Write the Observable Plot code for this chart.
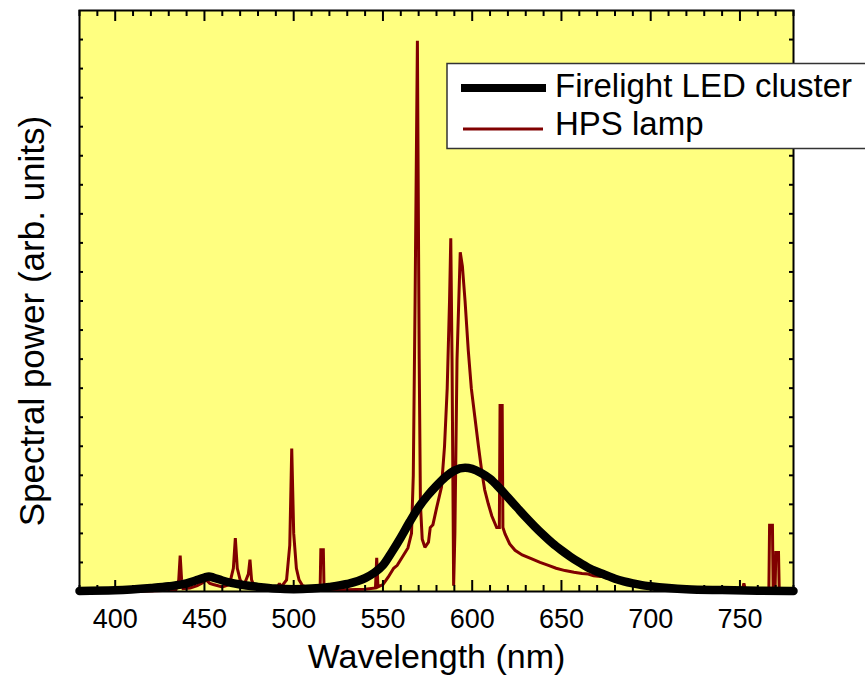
<!DOCTYPE html>
<html>
<head>
<meta charset="utf-8">
<script src="https://cdn.jsdelivr.net/npm/d3@7"></script>
<script src="https://cdn.jsdelivr.net/npm/@observablehq/plot@0.6"></script>
<style>
  html, body { margin: 0; padding: 0; background: #ffffff; }
  #wrap { position: relative; width: 865px; height: 681px; overflow: hidden; }
  #legend { position: absolute; left: 0; top: 0; pointer-events: none; }
</style>
</head>
<body>
<div id="wrap"></div>
<script>
// ---- Data ----
const seriesNames = ["Firelight LED cluster", "HPS lamp"];
const xLabel = "Wavelength (nm)";
const yLabel = "Spectral power (arb. units)";

const xMajorTicks = [400, 450, 500, 550, 600, 650, 700, 750];
const xMinorTicks = [380, 390, 410, 420, 430, 440, 460, 470, 480, 490, 510, 520, 530, 540, 560, 570, 580, 590,
  610, 620, 630, 640, 660, 670, 680, 690, 710, 720, 730, 740, 760, 770, 780];
const yMinorTicks = [5, 10, 15, 20, 25, 30, 35, 40, 45, 50, 55, 60, 65, 70, 75, 80, 85, 90, 95];

// Firelight LED cluster spectrum (wavelength nm, arb. units)
const ledWavelength = [380, 400, 420, 430, 440, 445, 450, 452.5, 455, 460, 465, 470, 480, 490, 500, 510, 520, 530,
  540, 545, 550, 555, 560, 565, 570, 575, 580, 585, 590, 596, 600, 605, 610, 615, 620, 625, 630, 635, 640,
  645, 650, 655, 660, 665, 670, 675, 680, 685, 690, 695, 700, 710, 720, 740, 760, 780];
const ledPower = [0.1, 0.2, 0.6, 0.9, 1.4, 1.9, 2.4, 2.6, 2.4, 1.9, 1.5, 1.2, 0.8, 0.5, 0.4, 0.5, 0.8, 1.3,
  2.3, 3.2, 4.5, 6.8, 9.3, 12.0, 14.5, 16.5, 18.2, 19.7, 20.8, 21.3, 21.1, 20.4, 19.4, 17.9, 16.2, 14.5, 12.8, 11.2, 9.7,
  8.3, 7.1, 6.0, 5.0, 4.1, 3.4, 2.8, 2.2, 1.75, 1.4, 1.1, 0.9, 0.6, 0.4, 0.25, 0.15, 0.1];

// HPS lamp spectrum (wavelength nm, arb. units)
const hpsWavelength = [380, 400, 420, 430, 434, 435.6, 436.4, 437.2, 438, 442, 446, 449, 451, 453, 455, 460, 464,
  466.2, 467.3, 468.4, 470, 472, 474.6, 475.5, 476.4, 478, 482, 488, 491, 492, 493, 496, 497.8, 498.9, 500, 501.5,
  503, 505, 510, 514.8, 515.2, 516.6, 517, 520, 530, 540, 545.8, 546.5, 547.2, 550, 553, 556, 558, 560, 562, 564,
  566, 567, 568, 569.3, 570.3, 571, 572, 573.5, 575.5, 576.5, 578, 580, 582.8, 584.5, 586, 587.3, 588, 588.7,
  589.6, 590.3, 591.5, 593.3, 594.5, 596, 597.8, 599.5, 601.5, 603.5, 605.3, 607, 609, 611, 613.7, 615.2, 615.6,
  616.8, 617.2, 618.4, 621, 624, 628, 633.4, 638, 642.7, 647, 652, 657, 661.5, 665, 668, 672, 676, 680, 685, 690,
  695, 700, 705, 710, 720, 730, 740, 749, 751.5, 752.2, 753, 760, 766.2, 766.6, 768.2, 768.6, 769.7, 770.1,
  771.6, 772, 776, 780];
const hpsPower = [0, 0, 0.1, 0.2, 0.3, 2, 6.2, 2, 0.5, 0.6, 1.0, 1.5, 2.0, 1.4, 1.2, 0.8, 1.2,
  4, 9.2, 4, 2, 1, 3, 5.5, 2, 0.8, 0.4, 0.5, 0.8, 1.4, 0.8, 2, 8, 24.6, 10, 4,
  2, 1, 0.5, 0.4, 7.2, 7.2, 0.4, 0.3, 0.3, 0.4, 0.6, 5.8, 0.8, 1.2, 2.5, 4, 4.5, 5.5, 6.5, 7.5,
  10, 20, 50, 94.8, 40, 15, 9, 7.6, 8.5, 11, 11.5, 14.3, 18, 25, 35, 50, 60.8, 40,
  1, 10, 40, 58.4, 56, 50, 41.5, 35, 30, 25, 20.8, 17.5, 15.1, 13, 11, 11, 32,
  32, 11, 9.9, 8.2, 7.1, 6.3, 5.6, 5, 4.5, 4, 3.6, 3.3, 3.1, 3.0, 2.7, 2.6, 2.4, 2.2, 1.8, 1.5,
  1.2, 1.0, 0.8, 0.6, 0.4, 0.3, 0.3, 0.3, 0.5, 1.4, 0.4, 0.3, 0.3, 11.4, 11.4, 0.5, 0.5, 6.7,
  6.7, 0.3, 0.2, 0.2];

// ---- Build tables ----
const led = ledWavelength.map((w, i) => ({w, p: ledPower[i]}));
const hps = hpsWavelength.map((w, i) => ({w, p: hpsPower[i]}));

const FONT = "'Liberation Sans', Arial, Helvetica, sans-serif";
const W = 865, H = 681, ML = 79, MR = 72, MT = 10, MB = 90;
const PW = W - ML - MR, PH = H - MT - MB;

const chart = Plot.plot({
  width: W, height: H,
  marginLeft: ML, marginRight: MR, marginTop: MT, marginBottom: MB,
  style: {background: "#ffffff", fontFamily: FONT, color: "#000"},
  x: {domain: [380, 780]},
  y: {domain: [0, 100], axis: null},
  marks: [
    Plot.frame({fill: "#ffff80", stroke: null}),
    Plot.line(hps, {x: "w", y: "p", stroke: "#800000", strokeWidth: 3, strokeLinejoin: "miter", strokeMiterlimit: 2}),
    Plot.line(led, {x: "w", y: "p", stroke: "#000000", strokeWidth: 8.5, curve: "monotone-x", strokeLinecap: "round"}),
    // inward ticks
    Plot.ruleX(xMajorTicks, {x: d => d, stroke: "#000", strokeWidth: 2, insetTop: PH - 11}),
    Plot.ruleX(xMajorTicks, {x: d => d, stroke: "#000", strokeWidth: 2, insetBottom: PH - 11}),
    Plot.ruleX(xMinorTicks, {x: d => d, stroke: "#000", strokeWidth: 2, insetTop: PH - 6}),
    Plot.ruleX(xMinorTicks, {x: d => d, stroke: "#000", strokeWidth: 2, insetBottom: PH - 6}),
    Plot.ruleY(yMinorTicks, {y: d => d, stroke: "#000", strokeWidth: 2, insetRight: PW - 4}),
    Plot.ruleY(yMinorTicks, {y: d => d, stroke: "#000", strokeWidth: 2, insetLeft: PW - 4}),
    Plot.frame({stroke: "#000", strokeWidth: 2}),
    Plot.axisX({ticks: xMajorTicks, tickSize: 0, tickPadding: 17, fontSize: 27, label: null, tickFormat: d => String(d)}),
    Plot.text([xLabel], {text: d => d, frameAnchor: "bottom", dy: 76, fontSize: 34, fill: "#000"}),
    Plot.text([yLabel], {text: d => d, frameAnchor: "left", textAnchor: "middle", lineAnchor: "middle", dx: -47, dy: 20, rotate: -90, fontSize: 35, fill: "#000"})
  ]
});

const wrap = document.getElementById("wrap");
wrap.appendChild(chart);

// ---- Legend overlay ----
const ns = "http://www.w3.org/2000/svg";
const lg = document.createElementNS(ns, "svg");
lg.setAttribute("id", "legend");
lg.setAttribute("width", W);
lg.setAttribute("height", H);
const legendItems = [
  {name: seriesNames[0], color: "#000000", width: 8, x1: 461, x2: 546, y: 88, ty: 97},
  {name: seriesNames[1], color: "#800000", width: 3, x1: 463, x2: 543, y: 129, ty: 135}
];
const box = document.createElementNS(ns, "rect");
box.setAttribute("x", 447); box.setAttribute("y", 63.5);
box.setAttribute("width", 430); box.setAttribute("height", 85);
box.setAttribute("fill", "#ffffff"); box.setAttribute("stroke", "#333333"); box.setAttribute("stroke-width", 1.5);
lg.appendChild(box);
for (const it of legendItems) {
  const ln = document.createElementNS(ns, "line");
  ln.setAttribute("x1", it.x1); ln.setAttribute("x2", it.x2);
  ln.setAttribute("y1", it.y); ln.setAttribute("y2", it.y);
  ln.setAttribute("stroke", it.color); ln.setAttribute("stroke-width", it.width);
  lg.appendChild(ln);
  const tx = document.createElementNS(ns, "text");
  tx.setAttribute("x", 555); tx.setAttribute("y", it.ty);
  tx.setAttribute("font-family", FONT); tx.setAttribute("font-size", 33);
  tx.setAttribute("fill", "#000");
  tx.textContent = it.name;
  lg.appendChild(tx);
}
wrap.appendChild(lg);
</script>
</body>
</html>
